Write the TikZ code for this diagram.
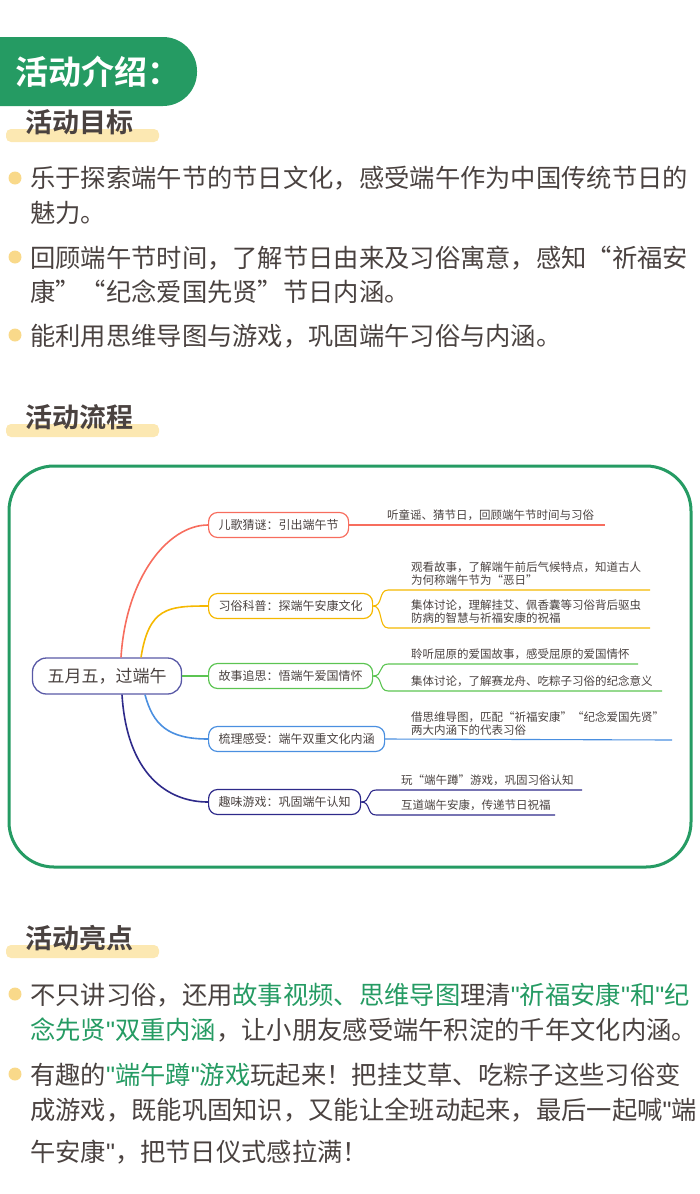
\documentclass[tikz,border=0pt]{standalone}
\usepackage{fontspec}
\setmainfont{Noto Sans CJK SC}
\newfontfamily\boldcjk{Noto Sans CJK SC Bold}
\newfontfamily\latinq{Liberation Sans}
\usetikzlibrary{positioning}
\definecolor{hdgreen}{HTML}{259B63}
\definecolor{hlyellow}{HTML}{FCE8B2}
\definecolor{dotyellow}{HTML}{F9D98A}
\definecolor{txtbrown}{HTML}{4A4240}
\definecolor{cred}{HTML}{F76D5E}
\definecolor{corange}{HTML}{F5B800}
\definecolor{cgreen}{HTML}{5CC452}
\definecolor{cblue}{HTML}{4A8FE0}
\definecolor{cnavy}{HTML}{2E2A8A}
\tikzset{
  body/.style={anchor=west,inner sep=0pt,text=txtbrown,font=\fontsize{25.3}{26}\selectfont},
  head/.style={anchor=west,inner sep=0pt,text=txtbrown,font=\boldcjk\fontsize{27}{27}\selectfont},
  bar/.style={fill=hlyellow,rounded corners=5pt},
  dot/.style={fill=dotyellow},
  topic/.style={draw=#1,line width=1.2pt,rounded corners=9pt,minimum height=25pt,inner xsep=10pt,text=txtbrown,font=\fontsize{12}{12}\selectfont,anchor=west},
  leaf/.style={anchor=south west,inner sep=1pt,text=txtbrown,font=\fontsize{11.5}{13}\selectfont,align=left},
  br/.style={draw=#1,line width=1.6pt}
}
\newcommand{\gr}[1]{\textcolor{hdgreen}{#1}}
\newcommand{\qt}{{\latinq"}}
\begin{document}
\begin{tikzpicture}[x=1pt,y=-1pt]
  \useasboundingbox (0,0) rectangle (700,1194);
  %% header
  \fill[hdgreen,rounded corners=34pt] (-50,37) rectangle (197,106);
  \node (title) [anchor=west,text=white,font=\boldcjk\fontsize{33}{33}\selectfont] at (12,72) {活动介绍：};

  %% goals
  \fill[bar] (6,129) rectangle (159,142);
  \node (goalhead) [head] at (25,122) {活动目标};
  \fill[dot] (15,178) circle (6.5);
  \node (g1) [body] at (30,178) {乐于探索端午节的节日文化，感受端午作为中国传统节日的};
  \node (g1b) [body] at (30,213) {魅力。};
  \fill[dot] (15,257) circle (6.5);
  \node (g2) [body] at (30,258) {回顾端午节时间，了解节日由来及习俗寓意，感知“祈福安};
  \node (g2b) [body] at (30,292) {康”“纪念爱国先贤”节日内涵。};
  \fill[dot] (15,335) circle (6.5);
  \node (g3) [body] at (30,336) {能利用思维导图与游戏，巩固端午习俗与内涵。};

  %% flow
  \fill[bar] (6,424) rectangle (159,437);
  \node (flowhead) [head] at (25,417) {活动流程};
  \draw[hdgreen,line width=3pt,rounded corners=45pt] (9,466) rectangle (691,867);

  % mind map
  \node (root) [draw=gray!70!blue,line width=1.3pt,rounded corners=14pt,minimum width=149pt,minimum height=36pt,text=txtbrown,font=\fontsize{17}{17}\selectfont] at (107,676) {五月五，过端午};
  \node (t1) [topic=cred] at (208,525) {儿歌猜谜：引出端午节};
  \node (t2) [topic=corange] at (208,606) {习俗科普：探端午安康文化};
  \node (t3) [topic=cgreen] at (208,676) {故事追思：悟端午爱国情怀};
  \node (t4) [topic=cblue] at (208,739) {梳理感受：端午双重文化内涵};
  \node (t5) [topic=cnavy] at (208,802) {趣味游戏：巩固端午认知};

  \draw[br=cred] (root.north) ++(14,0) .. controls +(5,-80) and +(-40,0) .. (t1.west);
  \draw[br=corange] (root.north) ++(34,0) .. controls +(8,-50) and +(-40,0) .. (t2.west);
  \draw[br=cgreen] (root.east) -- (t3.west);
  \draw[br=cblue] (root.south) ++(38,0) .. controls +(8,30) and +(-40,0) .. (t4.west);
  \draw[br=cnavy] (root.south) ++(15,0) .. controls +(5,80) and +(-40,0) .. (t5.west);

  \coordinate (e1) at (605,525);
  \draw[cred,line width=1.1pt] (t1.east) -- (e1);
  \node (l1) [leaf] at (386,522) {听童谣、猜节日，回顾端午节时间与习俗};

  \coordinate (e2a) at (650,590);
  \coordinate (e2b) at (650,628);
  \draw[corange,line width=1.1pt] (t2.east) .. controls +(10,0) and +(-10,0) .. ++(15,-16) -- (e2a);
  \draw[corange,line width=1.1pt] (t2.east) .. controls +(10,0) and +(-10,0) .. ++(15,22) -- (e2b);
  \node (l2a) [leaf] at (410,587) {观看故事，了解端午前后气候特点，知道古人\\为何称端午节为“恶日”};
  \node (l2b) [leaf] at (410,625) {集体讨论，理解挂艾、佩香囊等习俗背后驱虫\\防病的智慧与祈福安康的祝福};

  \coordinate (e3a) at (638,664);
  \coordinate (e3b) at (662,691);
  \draw[cgreen,line width=1.1pt] (t3.east) .. controls +(10,0) and +(-10,0) .. ++(15,-12) -- (e3a);
  \draw[cgreen,line width=1.1pt] (t3.east) .. controls +(10,0) and +(-10,0) .. ++(15,15) -- (e3b);
  \node (l3a) [leaf] at (410,661) {聆听屈原的爱国故事，感受屈原的爱国情怀};
  \node (l3b) [leaf] at (410,688) {集体讨论，了解赛龙舟、吃粽子习俗的纪念意义};

  \coordinate (e4) at (672,740);
  \draw[cblue,line width=1.1pt] (t4.east) -- (e4);
  \node (l4) [leaf] at (410,737) {借思维导图，匹配“祈福安康”“纪念爱国先贤”\\两大内涵下的代表习俗};

  \coordinate (e5a) at (582,790);
  \coordinate (e5b) at (555,815);
  \draw[cnavy,line width=1.1pt] (t5.east) .. controls +(10,0) and +(-10,0) .. ++(15,-12) -- (e5a);
  \draw[cnavy,line width=1.1pt] (t5.east) .. controls +(10,0) and +(-10,0) .. ++(15,13) -- (e5b);
  \node (l5a) [leaf] at (400,787) {玩“端午蹲”游戏，巩固习俗认知};
  \node (l5b) [leaf] at (400,812) {互道端午安康，传递节日祝福};

  %% highlights
  \fill[bar] (6,945) rectangle (159,958);
  \node (hlhead) [head] at (25,938) {活动亮点};
  \fill[dot] (15,994) circle (6.5);
  \node (h1) [body] at (30,995) {不只讲习俗，还用\gr{故事视频、思维导图}理清\gr{\qt 祈福安康\qt 和\qt 纪}};
  \node (h1b) [body] at (30,1030) {\gr{念先贤\qt 双重内涵}，让小朋友感受端午积淀的千年文化内涵。};
  \fill[dot] (15,1074) circle (6.5);
  \node (h2) [body] at (30,1075) {有趣的\gr{\qt 端午蹲\qt 游戏}玩起来！把挂艾草、吃粽子这些习俗变};
  \node (h2b) [body] at (30,1110) {成游戏，既能巩固知识，又能让全班动起来，最后一起喊\qt 端};
  \node (h2c) [body] at (30,1152) {午安康\qt ，把节日仪式感拉满！};
\end{tikzpicture}
\end{document}
